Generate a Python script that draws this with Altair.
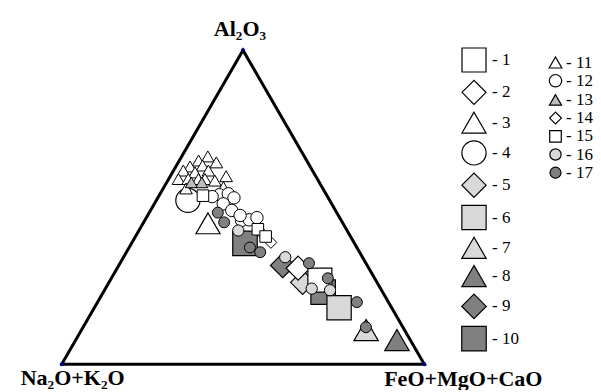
import altair as alt
import numpy as np
import pandas as pd

# ---- data: ternary compositions (Al2O3, Na2O+K2O, FeO+MgO+CaO), in % ----
g1 = [(26.8, 15.4, 57.8)]
g2 = [(30.6, 19.5, 49.9)]
g3 = [(44.9, 37.2, 17.9)]
g4 = [(52.2, 39.1, 8.7)]
g5 = [(26.1, 20.5, 53.4)]
g6 = [(18.0, 14.5, 67.5)]
g7 = [(10.9, 10.6, 78.5)]
g8 = [(7.7, 3.7, 88.6)]
g9 = [(31.5, 23.3, 45.2)]
g10 = [(38.5, 30.2, 31.3), (23.0, 16.4, 60.6)]
g11 = [(66.2, 26.6, 7.2), (64.9, 29.8, 5.3), (64.3, 25.2, 10.5), (63.0, 33.1, 3.9),
       (63.3, 29.5, 7.2), (61.7, 28.7, 9.6), (61.7, 35.6, 2.7), (61.1, 32.7, 6.2),
       (59.9, 24.7, 15.4), (59.0, 38.3, 2.7), (59.0, 35.6, 5.4), (59.0, 32.8, 8.2),
       (59.0, 31.0, 10.0), (56.4, 27.2, 16.4), (58.5, 28.5, 13.0), (56.0, 37.7, 6.3)]
g12 = [(54.0, 29.5, 16.5), (54.3, 26.9, 18.8), (53.0, 26.0, 21.0), (51.1, 29.9, 19.0),
       (49.0, 28.6, 22.4), (45.8, 27.5, 26.7), (46.0, 25.3, 28.7), (46.7, 22.8, 30.5),
       (47.4, 27.1, 25.5), (53.4, 31.8, 14.8)]
g13 = [(57.9, 35.3, 6.8), (57.9, 32.4, 9.7)]
g14 = [(41.7, 23.9, 34.4), (38.8, 22.9, 38.3)]
g15 = [(53.7, 34.2, 12.1), (43.0, 24.4, 32.6), (40.7, 23.4, 35.9)]
g16 = [(42.6, 30.0, 27.4), (34.1, 21.3, 44.6), (24.1, 19.0, 56.9), (23.6, 14.2, 62.2)]
g17 = [(48.3, 32.8, 18.9), (45.2, 32.6, 22.2), (37.2, 29.5, 33.3), (35.7, 27.4, 36.9),
       (32.2, 15.7, 52.1), (27.4, 12.9, 59.7), (19.8, 8.7, 71.5), (11.8, 10.2, 78.0)]

labels_A = ["1", "2", "3", "4", "5", "6", "7", "8", "9", "10"]
labels_B = ["11", "12", "13", "14", "15", "16", "17"]
groups_A = [g1, g2, g3, g4, g5, g6, g7, g8, g9, g10]
groups_B = [g11, g12, g13, g14, g15, g16, g17]

# ---- styles ----
WHITE, LIGHT, DARK, MID = "#ffffff", "#d9d9d9", "#808080", "#bdbdbd"
shapes_A = ["square", "diamond", "triangle-up", "circle", "diamond", "square",
            "triangle-up", "triangle-up", "diamond", "square"]
fills_A = [WHITE, WHITE, WHITE, WHITE, LIGHT, LIGHT, LIGHT, DARK, DARK, DARK]
sizes_A = [576, 600, 600, 600, 600, 600, 600, 600, 600, 600]
shapes_B = ["triangle-up", "circle", "triangle-up", "diamond", "square", "circle", "circle"]
fills_B = [WHITE, WHITE, MID, WHITE, WHITE, LIGHT, DARK]
sizes_B = [160, 120, 160, 170, 100, 120, 120]

S3 = np.sqrt(3) / 2


def to_xy(a, b, c):
    t = a + b + c
    a, c = a / t * 100, c / t * 100
    return c + a / 2, a * S3


def build(labels, groups, key, reverse=False):
    rows = []
    pairs = list(zip(labels, groups))
    if reverse:
        pairs = pairs[::-1]
    for lab, pts in pairs:
        for a, b, c in pts:
            x, y = to_xy(a, b, c)
            rows.append({"x": x, "y": y, key: lab})
    return pd.DataFrame(rows)


dfA = build(labels_A, groups_A, "gA", reverse=True)
dfB = build(labels_B, groups_B, "gB")

frame_df = pd.DataFrame({"x": [0, 100, 50, 0], "y": [0, 0, 100 * S3, 0], "o": [0, 1, 2, 3]})
vert_df = frame_df.iloc[:3]

PX = 3.626
W, H = 585, 382
XMIN = -53.7 / PX
XMAX = XMIN + W / PX
YMIN = -(H - 356.3) / PX
YMAX = YMIN + H / PX
xs = alt.Scale(domain=[XMIN, XMAX], nice=False, zero=False)
ys = alt.Scale(domain=[YMIN, YMAX], nice=False, zero=False)
X = alt.X("x:Q", scale=xs, axis=None)
Y = alt.Y("y:Q", scale=ys, axis=None)

SERIF = "Liberation Serif"

frame = alt.Chart(frame_df).mark_line(color="black", strokeWidth=3).encode(x=X, y=Y, order="o:Q")
verts = alt.Chart(vert_df).mark_point(filled=True, color="#00008b", size=16, opacity=1).encode(x=X, y=Y)


def legend(lx, ly, rowpad, offset):
    return alt.Legend(title=None, orient="none", legendX=lx, legendY=ly,
                      labelExpr="'- ' + datum.label", labelFont=SERIF, labelFontSize=17,
                      labelColor="black", rowPadding=rowpad, labelOffset=offset,
                      symbolStrokeColor="black", symbolStrokeWidth=1.2, padding=0,
                      symbolOpacity=1)


legA = legend(453, 39, 2.3, 5)
legB = legend(539, 46, 0.2, 2)


def layer(df, key, labels, shapes, fills, sizes, leg, sw):
    return alt.Chart(df).mark_point(filled=True, opacity=1, stroke="black", strokeWidth=sw).encode(
        x=X, y=Y,
        shape=alt.Shape(f"{key}:O", scale=alt.Scale(domain=labels, range=shapes), legend=leg),
        fill=alt.Fill(f"{key}:O", scale=alt.Scale(domain=labels, range=fills), legend=leg),
        size=alt.Size(f"{key}:O", scale=alt.Scale(domain=labels, range=sizes), legend=leg),
        stroke=alt.Stroke(f"{key}:O", scale=alt.Scale(domain=labels, range=["black"] * len(labels)),
                          legend=leg),
    )


pA = layer(dfA, "gA", labels_A, shapes_A, fills_A, sizes_A, legA, 1.2)
pB = layer(dfB, "gB", labels_B, shapes_B, fills_B, sizes_B, legB, 1)

lab_top = alt.Chart(vert_df.iloc[[2]]).mark_text(
    text="Al₂O₃", font=SERIF, fontWeight="bold", fontSize=22, color="black",
    baseline="alphabetic", dx=-3, dy=-14).encode(x=X, y=Y)
lab_left = alt.Chart(vert_df.iloc[[0]]).mark_text(
    text="Na₂O+K₂O", font=SERIF, fontWeight="bold", fontSize=22, color="black",
    baseline="alphabetic", dx=11, dy=21).encode(x=X, y=Y)
lab_right = alt.Chart(vert_df.iloc[[1]]).mark_text(
    text="FeO+MgO+CaO", font=SERIF, fontWeight="bold", fontSize=22, color="black",
    baseline="alphabetic", dx=39, dy=22).encode(x=X, y=Y)

chart = alt.layer(frame, pA, pB, verts, lab_top, lab_left, lab_right).resolve_scale(
    shape="independent", fill="independent", size="independent", stroke="independent"
).properties(
    width=W, height=H, autosize=alt.AutoSizeParams(type="none"), padding=0
).configure_view(stroke=None)

chart.save("out.html", embed_options={"renderer": "svg", "actions": False})
